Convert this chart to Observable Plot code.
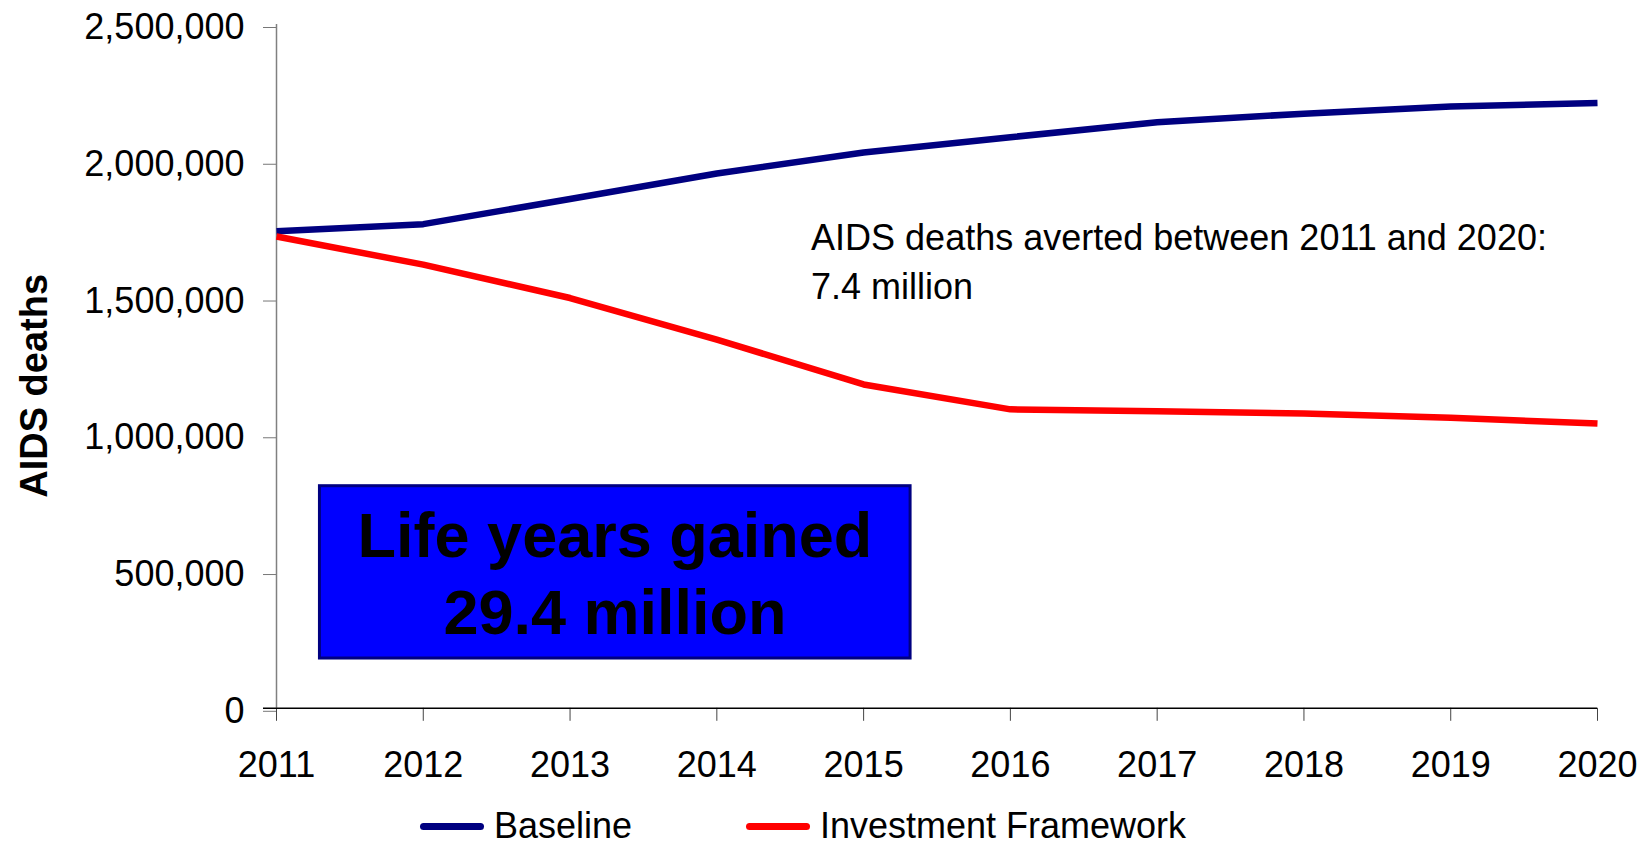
<!DOCTYPE html>
<html>
<head>
<meta charset="utf-8">
<script src="https://cdn.jsdelivr.net/npm/d3@7"></script>
<script src="https://cdn.jsdelivr.net/npm/@observablehq/plot@0.6"></script>
<style>
  body { margin: 0; background: #fff; font-family: "Liberation Sans", Arial, sans-serif; }
  #chart svg { display: block; }
  #legend { position: relative; width: 1642px; height: 47px; font-size: 36px; color: #000; }
  .item { position: absolute; top: 11px; height: 30px; line-height: 30px; display: flex; align-items: center; white-space: nowrap; }
  .swatch { width: 64px; height: 7px; border-radius: 3.5px; margin-right: 10px; }
</style>
</head>
<body>
<div id="chart"></div>
<div id="legend"></div>
<script>
// ---- data ----
const years = [2011, 2012, 2013, 2014, 2015, 2016, 2017, 2018, 2019, 2020];
const baseline = [1744000, 1770000, 1862000, 1955000, 2032000, 2088000, 2143000, 2174000, 2200000, 2213000];
const investment = [1725000, 1622000, 1500000, 1348000, 1184000, 1093000, 1086000, 1078000, 1062000, 1041000];
const seriesNames = ["Baseline", "Investment Framework"];
const seriesColors = ["#000080", "#FF0000"];
const yTicks = [0, 500000, 1000000, 1500000, 2000000, 2500000];
const yLabel = "AIDS deaths";
const noteText = "AIDS deaths averted between 2011 and 2020:\n7.4 million";
const boxText = "Life years gained\n29.4 million";

// annotation anchors in data space
const noteAnchor = {x: 2014.642, y: 1497800};
const box = {x1: 2011.296, x2: 2015.32, y1: 182000, y2: 812000};
const boxLabelAnchor = {x: 2013.306, y: 272500};

const rows = years.flatMap((yr, i) => [
  {year: yr, value: baseline[i], series: seriesNames[0]},
  {year: yr, value: investment[i], series: seriesNames[1]}
]);

const font = '"Liberation Sans", Arial, sans-serif';

const chart = Plot.plot({
  width: 1642,
  height: 800,
  marginTop: 24,
  marginBottom: 92.2,
  marginLeft: 276,
  marginRight: 45,
  style: {fontFamily: font, fontSize: "36px", color: "#000", background: "#fff"},
  x: {type: "linear", domain: [2011, 2020]},
  y: {domain: [0, 2500000]},
  color: {domain: seriesNames, range: seriesColors},
  marks: [
    Plot.axisY({ticks: yTicks, tickSize: 13, tickPadding: 19, tickFormat: d3.format(","),
      label: null, stroke: "#777", fill: "#000", fontSize: 36, dy: 3}),
    Plot.axisX({ticks: years, tickSize: 13, tickPadding: 30, tickFormat: d => String(d),
      label: null, stroke: "#444", fill: "#000", fontSize: 36}),
    Plot.ruleX([2011], {y1: 0, y2: 2500000, stroke: "#808080", strokeWidth: 1.5}),
    Plot.ruleY([0], {x1: 2011, x2: 2020, insetLeft: -13, stroke: "#000", strokeWidth: 1.5}),
    Plot.text([yLabel], {frameAnchor: "left", text: d => d, rotate: -90, dx: -230, dy: 19.5,
      fontSize: 38, fontWeight: "bold", lineAnchor: "bottom", textAnchor: "middle", fill: "#000"}),
    Plot.line(rows, {x: "year", y: "value", stroke: "series", strokeWidth: 6.5,
      strokeLinejoin: "round", strokeLinecap: "butt"}),
    Plot.rect([box], {x1: "x1", x2: "x2", y1: "y1", y2: "y2", fill: "#0000FF", stroke: "#000080", strokeWidth: 3}),
    Plot.text([boxText], {x: boxLabelAnchor.x, y: boxLabelAnchor.y, text: d => d, fontSize: 63,
      fontWeight: "bold", lineAnchor: "bottom", lineHeight: 1.216, textAnchor: "middle", fill: "#000"}),
    Plot.text([noteText], {x: noteAnchor.x, y: noteAnchor.y, text: d => d, fontSize: 36,
      lineAnchor: "bottom", lineHeight: 1.34, textAnchor: "start", fill: "#000"})
  ]
});
document.getElementById("chart").appendChild(chart);

// ---- legend ----
const legend = document.getElementById("legend");
const legendLeft = [420, 746];
seriesNames.forEach((name, i) => {
  const item = document.createElement("div");
  item.className = "item";
  item.style.left = legendLeft[i] + "px";
  const sw = document.createElement("span");
  sw.className = "swatch";
  sw.style.background = seriesColors[i];
  const label = document.createElement("span");
  label.textContent = name;
  item.appendChild(sw);
  item.appendChild(label);
  legend.appendChild(item);
});
</script>
</body>
</html>
